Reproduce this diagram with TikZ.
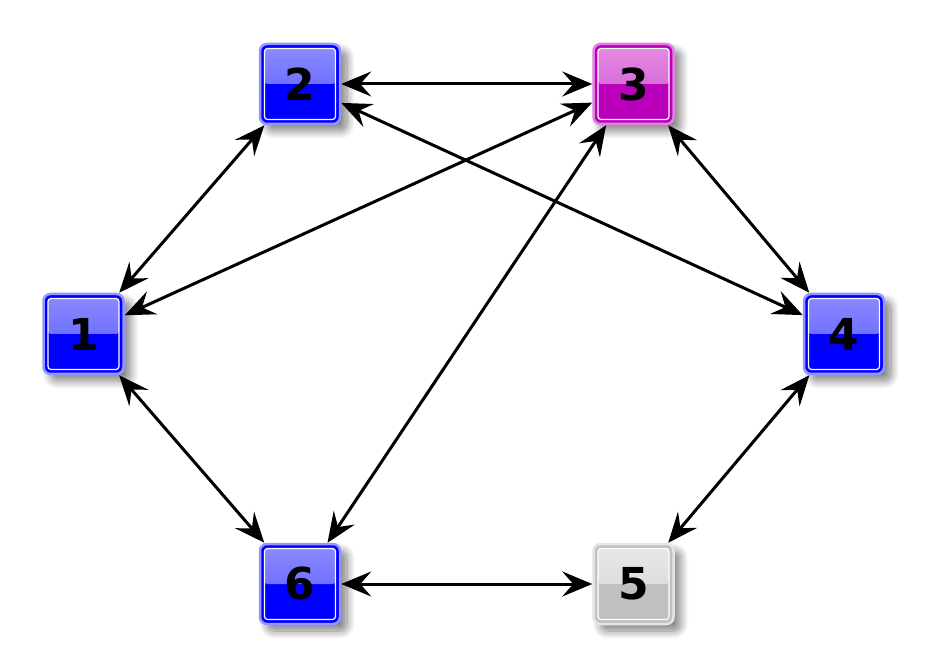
\documentclass[tikz,border=0pt]{standalone}
\usepackage{fontspec}
\setsansfont{DejaVu Sans}
\usetikzlibrary{arrows.meta,shadows.blur}
\definecolor{bluebase}{RGB}{0,0,255}
\definecolor{bluetop}{RGB}{140,140,255}
\definecolor{bluemid}{RGB}{85,85,255}
\definecolor{blueedge}{RGB}{150,150,255}
\definecolor{magbase}{RGB}{187,0,187}
\definecolor{magtop}{RGB}{228,140,228}
\definecolor{magmid}{RGB}{205,80,205}
\definecolor{magedge}{RGB}{225,130,225}
\definecolor{graybase}{RGB}{192,192,192}
\definecolor{graytop}{RGB}{232,232,232}
\definecolor{graymid}{RGB}{212,212,212}
\definecolor{grayedge}{RGB}{228,228,228}
\tikzset{
  sq/.style n args={4}{minimum size=80pt, inner sep=0pt, outer sep=1.25pt,
    rounded corners=7pt, fill=#1, draw=#4, line width=2.5pt,
    font=\sffamily\bfseries\fontsize{44}{44}\selectfont,
    blur shadow={shadow xshift=7pt, shadow yshift=-7pt, shadow blur steps=12, shadow blur radius=8pt, shadow opacity=50},
    path picture={
      \fill[rounded corners=3pt, top color=#2, bottom color=#3]
        ([shift={(4.5pt,0pt)}]path picture bounding box.west) rectangle
        ([shift={(-4.5pt,-4.5pt)}]path picture bounding box.north east);
      \draw[white, line width=1.2pt, rounded corners=3pt]
        ([shift={(4.5pt,4.5pt)}]path picture bounding box.south west) rectangle
        ([shift={(-4.5pt,-4.5pt)}]path picture bounding box.north east);
    }},
  bluesq/.style={sq={bluebase}{bluetop}{bluemid}{blueedge}},
  magsq/.style={sq={magbase}{magtop}{magmid}{magedge}},
  graysq/.style={sq={graybase}{graytop}{graymid}{grayedge}},
  link/.style={line width=3pt, {Stealth[length=30pt,width=25pt,inset=11pt]}-{Stealth[length=30pt,width=25pt,inset=11pt]}}
}
\begin{document}
\begin{tikzpicture}[x=1pt,y=1pt]
\useasboundingbox (0,0) rectangle (928,667);
\node[bluesq] (n1) at (83.5,333) {1};
\node[bluesq] (n2) at (300,583) {2};
\node[magsq] (n3) at (633.5,583) {3};
\node[bluesq] (n4) at (844,333) {4};
\node[graysq] (n5) at (633.5,83) {5};
\node[bluesq] (n6) at (300,83) {6};
\draw[link] (n2) -- (n3);
\draw[link] (n2) -- (n1);
\draw[link] (n3) -- (n1);
\draw[link] (n2) -- (n4);
\draw[link] (n3) -- (n4);
\draw[link] (n3) -- (n6);
\draw[link] (n1) -- (n6);
\draw[link] (n6) -- (n5);
\draw[link] (n4) -- (n5);
\end{tikzpicture}
\end{document}
